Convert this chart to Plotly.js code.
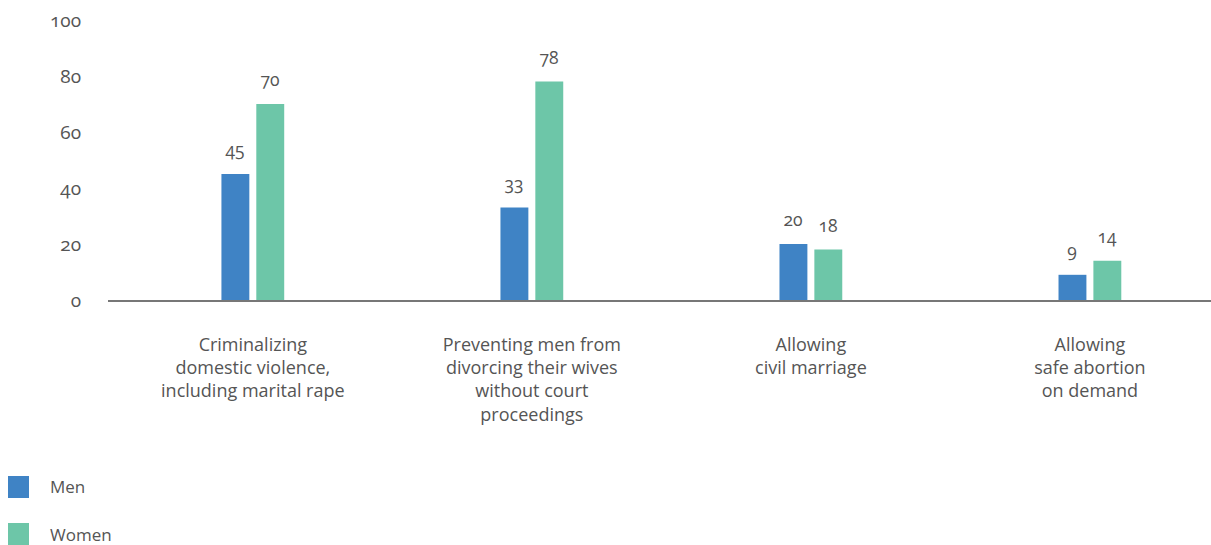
<!DOCTYPE html>
<html>
<head>
<meta charset="utf-8">
<script src="https://cdn.plot.ly/plotly-3.0.1.min.js"></script>
<style>
html,body{margin:0;padding:0;background:#fff;}
#chart{width:1211px;height:545px;}
.main-svg text{font-feature-settings:"onum" 1;}
</style>
</head>
<body>
<div id="chart"></div>
<script>
const categories = [
  "Criminalizing<br>domestic violence,<br>including marital rape",
  "Preventing men from<br>divorcing their wives<br>without court<br>proceedings",
  "Allowing<br>civil marriage",
  "Allowing<br>safe abortion<br>on demand"
];
const menValues = [45, 33, 20, 9];
const womenValues = [70, 78, 18, 14];
const seriesNames = ["Men", "Women"];
const seriesColors = ["#3f83c5", "#6dc6a8"];
const yTicks = [0, 20, 40, 60, 80, 100];

const FONT = "Open Sans, Noto Sans, sans-serif";
const TXT = "#555555";

const traces = [
  {type:"bar", name:seriesNames[0], x:categories, y:menValues, marker:{color:seriesColors[0]}, hoverinfo:"none"},
  {type:"bar", name:seriesNames[1], x:categories, y:womenValues, marker:{color:seriesColors[1]}, hoverinfo:"none"}
];

const annotations = [];
[menValues, womenValues].forEach((vals, si) => {
  vals.forEach((v, i) => {
    annotations.push({
      x: categories[i], y: v, xref:"x", yref:"y",
      text: String(v), showarrow:false,
      xshift: si === 0 ? -17.5 : 17.5, yshift: 25, yanchor:"middle",
      font:{family:FONT, size:17.5, color:TXT}
    });
  });
});
// legend
const shapes = [];
seriesNames.forEach((n, i) => {
  const yc = 487 + i*47;
  shapes.push({type:"rect", xref:"paper", yref:"paper",
    x0:(8-108)/1103, x1:(29-108)/1103,
    y0:(300-(yc+11))/280, y1:(300-(yc-11))/280,
    fillcolor:seriesColors[i], line:{width:0}});
  annotations.push({xref:"paper", yref:"paper", x:(48-108)/1103, y:(300-yc)/280,
    xanchor:"left", yanchor:"middle", showarrow:false, text:n,
    font:{family:FONT, size:17, color:TXT}});
});

const layout = {
  width:1211, height:545,
  margin:{l:108, r:0, t:20, b:245},
  paper_bgcolor:"#fff", plot_bgcolor:"#fff",
  barmode:"group", bargap:0.75, bargroupgap:0.2,
  showlegend:false,
  font:{family:FONT, size:16, color:TXT},
  xaxis:{type:"category", range:[-0.519, 3.434], showline:true, linecolor:"#777", linewidth:2,
    showgrid:false, zeroline:false, ticks:"", ticklabelstandoff:27,
    tickfont:{family:FONT, size:18, color:TXT}, fixedrange:true},
  yaxis:{range:[0,100], tickvals:yTicks, ticktext:yTicks.map(String), showgrid:false,
    zeroline:false, showline:false, ticks:"", ticklabelstandoff:26,
    tickfont:{family:FONT, size:19, color:TXT}, fixedrange:true},
  annotations:annotations, shapes:shapes
};
Plotly.newPlot("chart", traces, layout, {displayModeBar:false, staticPlot:true});
</script>
</body>
</html>
